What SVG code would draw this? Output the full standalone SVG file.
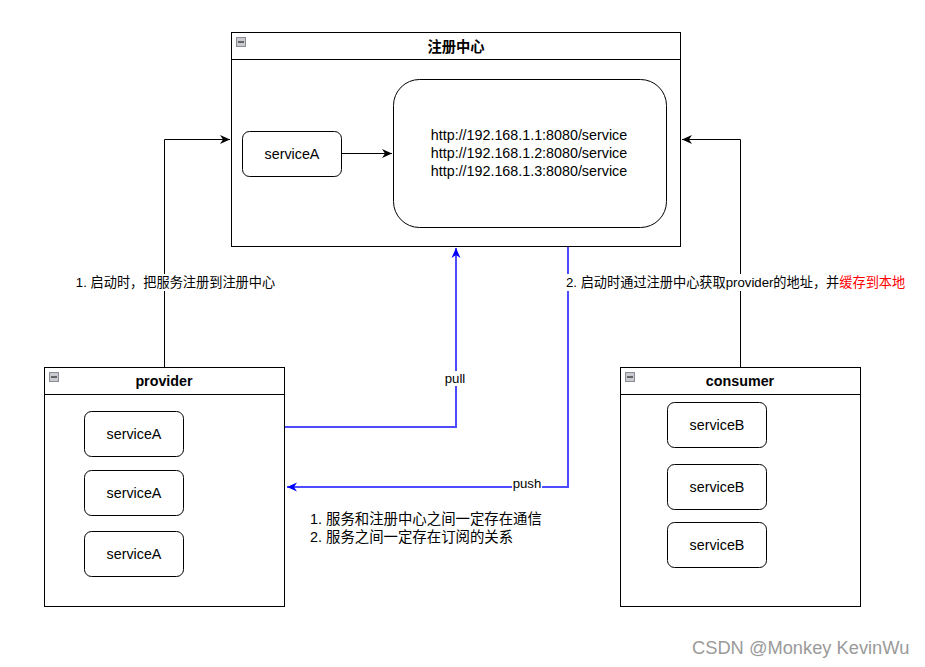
<svg xmlns="http://www.w3.org/2000/svg" width="925" height="667" viewBox="0 0 925 667">
<style>
text{font-family:"Liberation Sans","Noto Sans CJK SC",Arial,sans-serif;fill:#000}
.box{fill:#fff;stroke:#000;stroke-width:1}
.hd{fill:none;stroke:#000;stroke-width:1}
.ttl{font-size:14.3px;font-weight:bold;text-anchor:middle}
.svc{fill:#fff;stroke:#000;stroke-width:1}
.lbl{font-size:14.3px;text-anchor:middle}
.ico{fill:#c8cad0;stroke:#8a8c92;stroke-width:1}
.bl{fill:none;stroke:#000;stroke-width:1}
.blu{fill:none;stroke:#4d4dff;stroke-width:2}
.lb{fill:#fff}
.el{font-size:13.2px}
</style>
<defs>
<marker id="ab" markerWidth="12" markerHeight="12" refX="10" refY="6" orient="auto" markerUnits="userSpaceOnUse"><path d="M0,1.5 L10,6 L0,10.5 L3,6 Z" fill="#000"/></marker>
<marker id="au" markerWidth="12" markerHeight="12" refX="10" refY="6" orient="auto" markerUnits="userSpaceOnUse"><path d="M0,1.5 L10,6 L0,10.5 L3,6 Z" fill="#0000ff"/></marker>
</defs>
<rect width="925" height="667" fill="#fff"/>

<g id="registry">
<rect class="box" x="231.5" y="32.5" width="449" height="214"/>
<line class="hd" x1="231.5" y1="59.5" x2="680.5" y2="59.5"/>
<rect class="ico" x="236.5" y="37.5" width="9" height="9"/>
<line x1="238" y1="42" x2="244" y2="42" stroke="#000" stroke-width="1"/>
<text class="ttl" x="456" y="52">注册中心</text>
</g>
<g id="reg-serviceA">
<rect class="svc" x="242.5" y="131.5" width="99" height="45" rx="7"/>
<text class="lbl" x="292" y="159">serviceA</text>
</g>
<g id="reg-urls">
<rect class="svc" x="393.5" y="79.5" width="273" height="148" rx="26"/>
<text class="lbl" x="529" y="140">http://192.168.1.1:8080/service</text>
<text class="lbl" x="529" y="158">http://192.168.1.2:8080/service</text>
<text class="lbl" x="529" y="176">http://192.168.1.3:8080/service</text>
</g>

<g id="provider">
<rect class="box" x="44.5" y="367.5" width="240" height="239"/>
<line class="hd" x1="44.5" y1="394.5" x2="284.5" y2="394.5"/>
<rect class="ico" x="49.5" y="372.5" width="9" height="9"/>
<line x1="51" y1="377" x2="57" y2="377" stroke="#000" stroke-width="1"/>
<text class="ttl" x="164" y="386">provider</text>
</g>
<g id="prov-s1"><rect class="svc" x="84.5" y="411.5" width="99" height="45" rx="7"/><text class="lbl" x="134" y="439">serviceA</text></g>
<g id="prov-s2"><rect class="svc" x="84.5" y="470.5" width="99" height="45" rx="7"/><text class="lbl" x="134" y="497.5">serviceA</text></g>
<g id="prov-s3"><rect class="svc" x="84.5" y="531.5" width="99" height="45" rx="7"/><text class="lbl" x="134" y="559">serviceA</text></g>

<g id="consumer">
<rect class="box" x="620.5" y="367.5" width="240" height="239"/>
<line class="hd" x1="620.5" y1="394.5" x2="860.5" y2="394.5"/>
<rect class="ico" x="625.5" y="372.5" width="9" height="9"/>
<line x1="627" y1="377" x2="633" y2="377" stroke="#000" stroke-width="1"/>
<text class="ttl" x="740" y="386">consumer</text>
</g>
<g id="cons-s1"><rect class="svc" x="667.5" y="402.5" width="99" height="45" rx="7"/><text class="lbl" x="717" y="429.5">serviceB</text></g>
<g id="cons-s2"><rect class="svc" x="667.5" y="464.5" width="99" height="45" rx="7"/><text class="lbl" x="717" y="491.5">serviceB</text></g>
<g id="cons-s3"><rect class="svc" x="667.5" y="522.5" width="99" height="45" rx="7"/><text class="lbl" x="717" y="549.5">serviceB</text></g>

<g id="connectors">
<path class="bl" d="M341.5,153.5 H392" marker-end="url(#ab)"/>
<path class="bl" d="M164.5,367 V139.5 H230" marker-end="url(#ab)"/>
<path class="bl" d="M740.5,367 V139.5 H682" marker-end="url(#ab)"/>
<path class="blu" d="M285,427 H456 V248" marker-end="url(#au)"/>
<path class="blu" d="M568,247 V487 H287" marker-end="url(#au)"/>
<rect class="lb" x="74" y="274" width="203" height="17"/>
<text class="el" x="175.5" y="287" text-anchor="middle">1. 启动时，把服务注册到注册中心</text>
<rect class="lb" x="564" y="274" width="343" height="17"/>
<text class="el" x="566" y="287">2. 启动时通过注册中心获取provider的地址，并<tspan fill="#ff0000">缓存到本地</tspan></text>
<rect class="lb" x="443" y="371" width="24" height="15"/>
<text class="el" x="455" y="383" text-anchor="middle">pull</text>
<rect class="lb" x="512" y="477" width="30" height="13"/>
<text class="el" x="527" y="488" text-anchor="middle">push</text>
</g>

<g id="notes">
<text x="310" y="524" font-size="14.4">1. 服务和注册中心之间一定存在通信</text>
<text x="310" y="542" font-size="14.4">2. 服务之间一定存在订阅的关系</text>
</g>
<text x="692" y="654" font-size="18.3" style="fill:#9a9a9a">CSDN @Monkey KevinWu</text>
</svg>
